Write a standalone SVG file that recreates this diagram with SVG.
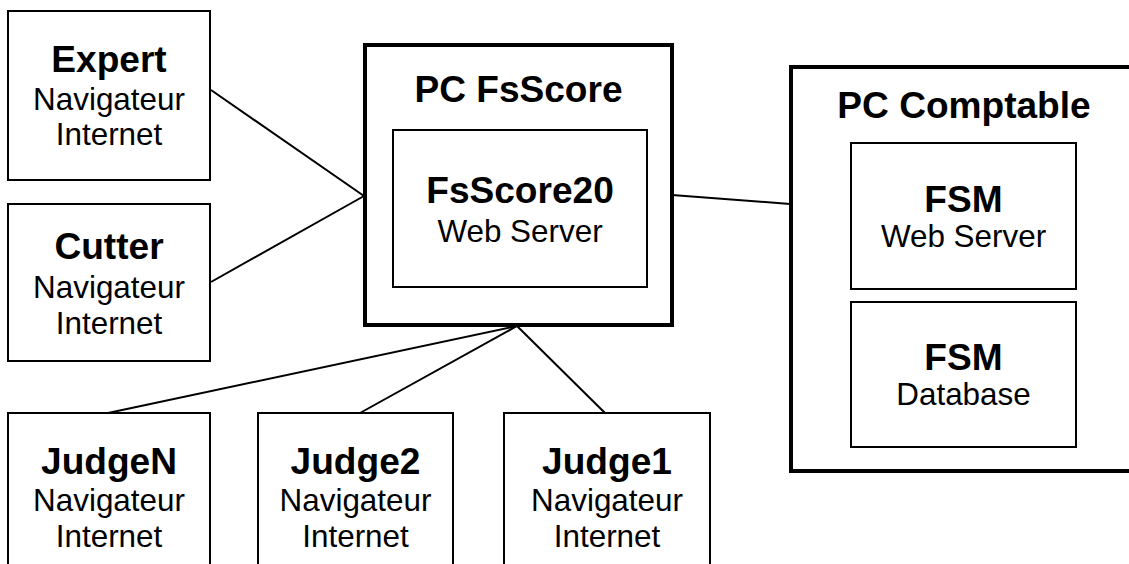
<svg xmlns="http://www.w3.org/2000/svg" width="1129" height="564" viewBox="0 0 1129 564">
<style>
.box{fill:#fff;stroke:#000;stroke-width:2}
.big{fill:#fff;stroke:#000;stroke-width:4}
.t{font-family:"Liberation Sans",Arial,sans-serif;text-anchor:middle;fill:#000}
.b{font-weight:bold;font-size:36px}
.r{font-size:30.5px}
.con line{stroke:#000;stroke-width:2}
</style>
<rect width="1129" height="564" fill="#fff"/>
<g id="connectors" class="con">
<line x1="211" y1="90" x2="364" y2="196"/>
<line x1="211" y1="282" x2="364" y2="196"/>
<line x1="672" y1="195" x2="790" y2="204"/>
<line x1="517" y1="326" x2="108" y2="413"/>
<line x1="517" y1="326" x2="360" y2="413"/>
<line x1="517" y1="326" x2="605" y2="413"/>
</g>
<g id="expert">
<rect class="box" x="8" y="11" width="202" height="169"/>
<g class="t" transform="translate(109 0) scale(1.03 1)">
<text class="b" x="0" y="72">Expert</text>
<text class="r" x="0" y="110">Navigateur</text>
<text class="r" x="0" y="145">Internet</text>
</g>
</g>
<g id="cutter">
<rect class="box" x="8" y="204" width="202" height="157"/>
<g class="t" transform="translate(109 0) scale(1.03 1)">
<text class="b" x="0" y="259">Cutter</text>
<text class="r" x="0" y="298">Navigateur</text>
<text class="r" x="0" y="334">Internet</text>
</g>
</g>
<g id="pcfsscore">
<rect class="big" x="365" y="45" width="307" height="280"/>
<g class="t" transform="translate(518.5 0) scale(1.03 1)">
<text class="b" x="0" y="102">PC FsScore</text>
</g>
</g>
<g id="fsscore20">
<rect class="box" x="393" y="130" width="254" height="157"/>
<g class="t" transform="translate(520 0) scale(1.03 1)">
<text class="b" x="0" y="203">FsScore20</text>
<text class="r" x="0" y="242">Web Server</text>
</g>
</g>
<g id="pccomptable">
<rect class="big" x="791" y="67" width="360" height="404"/>
<g class="t" transform="translate(964 0) scale(1.03 1)">
<text class="b" x="0" y="118">PC Comptable</text>
</g>
</g>
<g id="fsm-web">
<rect class="box" x="851" y="143" width="225" height="146"/>
<g class="t" transform="translate(963.5 0) scale(1.03 1)">
<text class="b" x="0" y="212">FSM</text>
<text class="r" x="0" y="247">Web Server</text>
</g>
</g>
<g id="fsm-db">
<rect class="box" x="851" y="302" width="225" height="145"/>
<g class="t" transform="translate(963.5 0) scale(1.03 1)">
<text class="b" x="0" y="370">FSM</text>
<text class="r" x="0" y="405">Database</text>
</g>
</g>
<g id="judgeN">
<rect class="box" x="8" y="413" width="202" height="170"/>
<g class="t" transform="translate(109 0) scale(1.03 1)">
<text class="b" x="0" y="474">JudgeN</text>
<text class="r" x="0" y="511">Navigateur</text>
<text class="r" x="0" y="547">Internet</text>
</g>
</g>
<g id="judge2">
<rect class="box" x="258" y="413" width="195" height="170"/>
<g class="t" transform="translate(355.5 0) scale(1.03 1)">
<text class="b" x="0" y="474">Judge2</text>
<text class="r" x="0" y="511">Navigateur</text>
<text class="r" x="0" y="547">Internet</text>
</g>
</g>
<g id="judge1">
<rect class="box" x="504" y="413" width="206" height="170"/>
<g class="t" transform="translate(607 0) scale(1.03 1)">
<text class="b" x="0" y="474">Judge1</text>
<text class="r" x="0" y="511">Navigateur</text>
<text class="r" x="0" y="547">Internet</text>
</g>
</g>
</svg>
